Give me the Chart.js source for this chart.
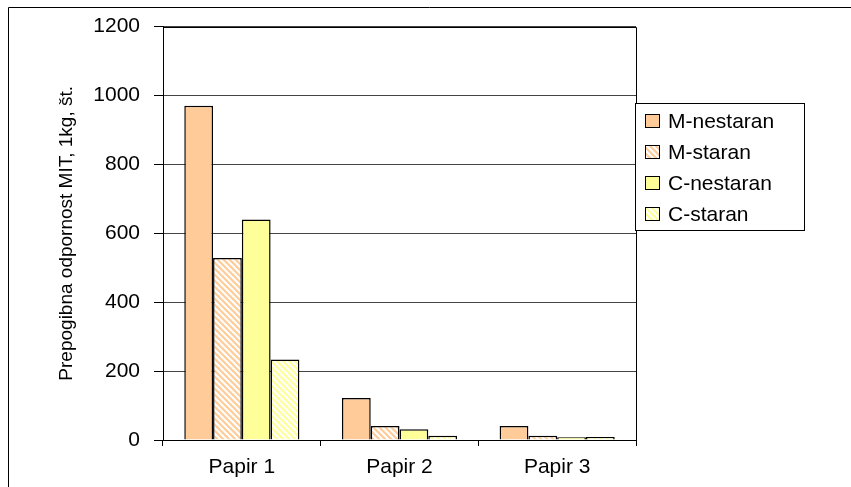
<!DOCTYPE html>
<html>
<head>
<meta charset="utf-8">
<script src="https://cdn.jsdelivr.net/npm/chart.js@4/dist/chart.umd.min.js"></script>
<style>
  html, body { margin: 0; padding: 0; background: #fff; }
  #wrap { width: 851px; height: 487px; position: relative; }
</style>
</head>
<body>
<div id="wrap"><canvas id="c"></canvas></div>
<script>
const categories = ['Papir 1', 'Papir 2', 'Papir 3'];
const seriesNames = ['M-nestaran', 'M-staran', 'C-nestaran', 'C-staran'];
const mNestaran = [970, 122, 41];
const mStaran = [528, 41, 12];
const cNestaran = [640, 31, 8];
const cStaran = [234, 12, 9];
const yTicks = [0, 200, 400, 600, 800, 1000, 1200];
const yTitle = 'Prepogibna odpornost MIT, 1kg, št.';

const FONT = "'Liberation Sans', Arial, sans-serif";
const ORANGE = '#FFCC99';
const YELLOW = '#FFFF99';

// diagonal stripe fill (top-left to bottom-right) on white
function hatch(color) {
  const s = 6;
  const c = document.createElement('canvas');
  c.width = s; c.height = s;
  const g = c.getContext('2d');
  g.fillStyle = '#fff';
  g.fillRect(0, 0, s, s);
  g.strokeStyle = color;
  g.lineWidth = 2.2;
  g.beginPath();
  g.moveTo(-1, -1); g.lineTo(s + 1, s + 1);
  g.moveTo(-1, s - 1); g.lineTo(1, s + 1);
  g.moveTo(s - 1, -1); g.lineTo(s + 1, 1);
  g.stroke();
  return g.createPattern(c, 'repeat');
}

const fills = [ORANGE, hatch(ORANGE), YELLOW, hatch(YELLOW)];
const values = [mNestaran, mStaran, cNestaran, cStaran];

const datasets = seriesNames.map((name, i) => ({
  label: name,
  data: values[i],
  backgroundColor: fills[i],
  borderColor: '#000',
  borderWidth: 1.5,
  borderSkipped: 'bottom',
  categoryPercentage: 0.73,
  barPercentage: 1.0
}));

// outer frame, plot box and boxed legend
const decor = {
  id: 'decor',
  beforeDraw(chart) {
    const ctx = chart.ctx;
    ctx.save();
    ctx.strokeStyle = '#000';
    ctx.lineWidth = 1;
    ctx.beginPath();
    ctx.moveTo(8.5, 487);
    ctx.lineTo(8.5, 7.5);
    ctx.lineTo(851, 7.5);
    ctx.stroke();
    ctx.restore();
  },
  afterDraw(chart) {
    const ctx = chart.ctx;
    const a = chart.chartArea;
    ctx.save();
    ctx.strokeStyle = '#000';
    ctx.lineWidth = 1;
    ctx.beginPath();
    ctx.moveTo(Math.round(a.left) + 0.5, Math.round(a.top) + 0.5);
    ctx.lineTo(Math.round(a.right) + 0.5, Math.round(a.top) + 0.5);
    ctx.lineTo(Math.round(a.right) + 0.5, Math.round(a.bottom) + 6);
    ctx.stroke();

    // legend
    const lx = 635, ly = 103, lw = 169, lh = 127;
    ctx.fillStyle = '#fff';
    ctx.fillRect(lx, ly, lw, lh);
    ctx.strokeRect(lx + 0.5, ly + 0.5, lw, lh);
    ctx.font = '21px ' + FONT;
    ctx.textBaseline = 'middle';
    ctx.textAlign = 'left';
    chart.data.datasets.forEach((ds, i) => {
      const cy = 121 + i * 31;
      ctx.fillStyle = ds.backgroundColor;
      ctx.fillRect(645, cy - 7, 15, 14);
      ctx.strokeStyle = '#000';
      ctx.strokeRect(645.5, cy - 6.5, 14, 13);
      ctx.fillStyle = '#000';
      ctx.fillText(ds.label, 668, cy + 1);
    });
    ctx.restore();
  }
};

new Chart(document.getElementById('c'), {
  type: 'bar',
  data: { labels: categories, datasets },
  plugins: [decor],
  options: {
    responsive: true,
    maintainAspectRatio: false,
    animation: false,
    layout: { padding: { left: 0, top: 23, right: 215, bottom: 0 } },
    plugins: { legend: { display: false }, tooltip: { enabled: false } },
    scales: {
      x: {
        offset: true,
        grid: { display: true, drawOnChartArea: false, offset: true, tickLength: 6, color: '#000', tickColor: '#000' },
        border: { color: '#000', width: 1 },
        ticks: { color: '#000', font: { family: FONT, size: 21 }, padding: 9, maxRotation: 0 },
        afterFit(scale) { scale.height = 47; }
      },
      y: {
        min: 0,
        max: 1200,
        afterBuildTicks(scale) { scale.ticks = yTicks.map(v => ({ value: v })); },
        grid: { color: '#444', tickColor: '#000', tickLength: 9 },
        border: { color: '#000', width: 1 },
        ticks: {
          color: '#000',
          font: { family: FONT, size: 21 },
          padding: 14,
          callback: (v) => String(v)
        },
        title: {
          display: true,
          text: yTitle,
          color: '#000',
          font: { family: FONT, size: 19 },
          padding: { top: 55, bottom: 0 }
        },
        afterFit(scale) { scale.width = 163; }
      }
    }
  }
});
</script>
</body>
</html>
